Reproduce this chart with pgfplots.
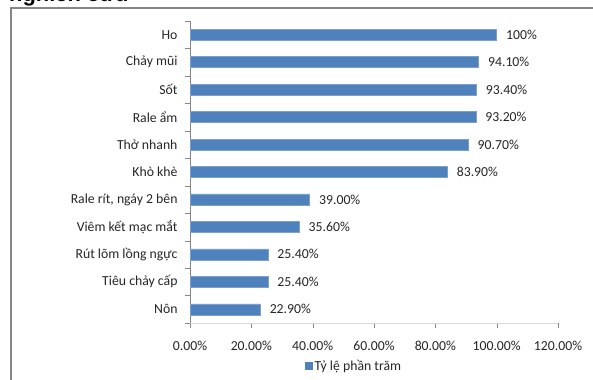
\documentclass[border=0pt]{standalone}
\usepackage{fontspec}
\setmainfont{Carlito}
\newfontfamily\titlefont{Liberation Sans}
\usepackage{pgfplots}
\pgfplotsset{compat=1.18}
\usepackage{pgfplotstable}
\definecolor{barblue}{HTML}{4F81BD}
\definecolor{axgray}{HTML}{868686}
\definecolor{axlight}{HTML}{D9D9D9}
\pgfplotstableread[col sep=comma]{
y,val,lab
0,22.9,22.90\%
1,25.4,25.40\%
2,25.4,25.40\%
3,35.6,35.60\%
4,39.0,39.00\%
5,83.9,83.90\%
6,90.7,90.70\%
7,93.2,93.20\%
8,93.4,93.40\%
9,94.1,94.10\%
10,100,100\%
}\datatable
\begin{document}
\begin{tikzpicture}[x=1bp,y=1bp]
\clip (0,0) rectangle (593,379);
\fill[white] (0,0) rectangle (593,379);
\node[anchor=base west, inner sep=0pt, font=\titlefont\bfseries\fontsize{22}{24}\selectfont] at (9,378) {nghiên cứu};
\draw[axgray, line width=1.2bp] (11,-10) -- (11,371) -- (610,371);
\begin{axis}[
  at={(190bp,56bp)}, anchor=south west,
  scale only axis, width=368bp, height=302bp,
  xbar, bar width=11bp,
  xmin=0, xmax=120, ymin=-0.5, ymax=10.5,
  axis x line=bottom, axis y line=left,
  axis line style={-},
  x axis line style={draw=axlight},
  y axis line style={draw=axgray},
  xtick={0,20,...,120},
  xticklabels={0.00\%,20.00\%,40.00\%,60.00\%,80.00\%,100.00\%,120.00\%},
  ytick={0,...,10},
  yticklabels={Nôn,Tiêu chảy cấp,Rút lõm lồng ngực,Viêm kết mạc mắt,{Rale rít, ngáy 2 bên},Khò khè,Thở nhanh,Rale ẩm,Sốt,Chảy mũi,Ho},
  minor ytick={-0.5,0.5,...,10.5},
  tick align=outside,
  major tick length=5bp, minor tick length=5bp,
  major y tick style={draw=none},
  minor y tick style={draw=axgray},
  major x tick style={draw=axgray},
  tick label style={font=\fontsize{13.8}{16}\selectfont, text=black!85},
  yticklabel style={xshift=-4bp},
  xticklabel style={yshift=-10bp},
  nodes near coords,
  point meta=explicit symbolic,
  every node near coord/.append style={anchor=west, font=\fontsize{13.8}{16}\selectfont, text=black!85, xshift=6bp},
  legend style={draw=none, fill=none, inner sep=0pt, at={(axis description cs:0.3125,-0.143)}, anchor=west, font=\fontsize{13.8}{16}\selectfont, text=black!85},
  legend cell align=left,
  legend image code/.code={\fill[barblue] (0bp,-3.5bp) rectangle (7bp,3.5bp);},
]
\addplot[fill=barblue, draw=barblue!75!white] table[x=val, y=y, meta=lab] {\datatable};
\addlegendentry{Tỷ lệ phần trăm}
\end{axis}
\end{tikzpicture}
\end{document}
